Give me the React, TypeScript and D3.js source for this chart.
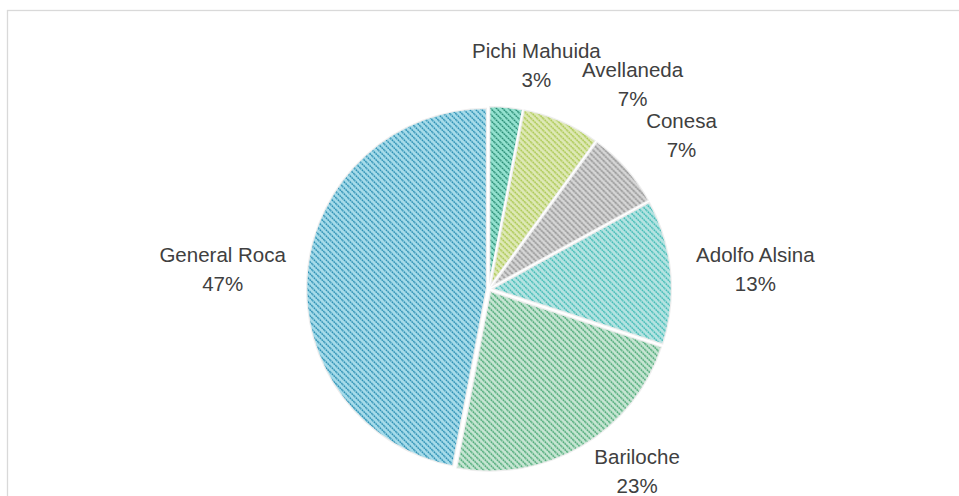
import React, { useEffect, useRef } from "react";
import * as d3 from "d3";

// Chart data (percent shares)
const categories = ["Pichi Mahuida", "Avellaneda", "Conesa", "Adolfo Alsina", "Bariloche", "General Roca"];
const values = [3, 7, 7, 13, 23, 47];
const labels = ["3%", "7%", "7%", "13%", "23%", "47%"];

// Hatch colours: background and stripe per slice
const bgColors = ["#9ff3df", "#effac4", "#e6e6e6", "#c2f4f2", "#d4f6e2", "#b2ecfb"];
const stripeColors = ["#1c8a6f", "#abd03f", "#858585", "#36c4be", "#3aab6d", "#1f8fba"];

// small nudges so labels sit where Excel put them (avoids overlaps)
const labelNudge: [number, number][] = [
  [22, 8],
  [42, 9],
  [12, 0],
  [3, 2],
  [22, -20],
  [1, 2],
];

const W = 959;
const H = 496;

const App: React.FC = () => {
  const svgRef = useRef<SVGSVGElement>(null);

  useEffect(() => {
    const svg = d3.select(svgRef.current);
    svg.selectAll("*").remove();

    const cx = 489;
    const cy = 289;
    const radius = 181;

    // chart border
    svg
      .append("rect")
      .attr("x", 7.5)
      .attr("y", 10.5)
      .attr("width", W + 20)
      .attr("height", H + 20)
      .attr("fill", "#fff")
      .attr("stroke", "#d9d9d9")
      .attr("stroke-width", 1.3);

    const defs = svg.append("defs");
    categories.forEach((_, i) => {
      const p = defs
        .append("pattern")
        .attr("id", `hatch${i}`)
        .attr("patternUnits", "userSpaceOnUse")
        .attr("width", 6)
        .attr("height", 6);
      p.append("rect").attr("width", 6).attr("height", 6).attr("fill", bgColors[i]);
      p.append("path")
        .attr("d", "M-1,-1 L7,7 M-4,2 L2,8 M2,-4 L8,2")
        .attr("stroke", stripeColors[i])
        .attr("stroke-width", 1.3)
        .attr("stroke-dasharray", "1.8 0.7");
    });

    // subtle rim shading
    const rg = defs
      .append("radialGradient")
      .attr("id", "rim")
      .attr("gradientUnits", "userSpaceOnUse")
      .attr("cx", cx)
      .attr("cy", cy)
      .attr("r", radius);
    rg.append("stop").attr("offset", "0.92").attr("stop-color", "#000").attr("stop-opacity", 0);
    rg.append("stop").attr("offset", "1").attr("stop-color", "#000").attr("stop-opacity", 0.07);

    const pie = d3
      .pie<number>()
      .sort(null)
      .value((d) => d);
    const arcs = pie(values);
    const arc = d3.arc<d3.PieArcDatum<number>>().innerRadius(0).outerRadius(radius);

    const explode = 2;
    const g = svg.append("g").attr("transform", `translate(${cx},${cy})`);

    const slices = g
      .selectAll("g.slice")
      .data(arcs)
      .enter()
      .append("g")
      .attr("class", "slice")
      .attr("transform", (d) => {
        const a = (d.startAngle + d.endAngle) / 2;
        return `translate(${explode * Math.sin(a)},${-explode * Math.cos(a)})`;
      });

    slices
      .append("path")
      .attr("d", arc)
      .attr("fill", (_, i) => `url(#hatch${i})`)
      .attr("stroke", "#fff")
      .attr("stroke-width", 2.5);

    slices
      .append("path")
      .attr("d", arc)
      .attr("fill", "url(#rim)")
      .attr("stroke", "none");

    // labels: outside end, anchored on mid angle
    const labelR = radius + 24;
    const lineGap = 29;
    const lg = svg
      .append("g")
      .attr("font-family", "'Liberation Sans', Arial, sans-serif")
      .attr("font-size", 20.5)
      .attr("fill", "#404040")
      .attr("text-anchor", "middle");

    arcs.forEach((d, i) => {
      const a = (d.startAngle + d.endAngle) / 2;
      const t = lg.append("text");
      t.append("tspan").attr("x", 0).attr("y", 0).text(categories[i]);
      t.append("tspan").attr("x", 0).attr("y", lineGap).text(labels[i]);
      const bb = (t.node() as SVGTextElement).getBBox();
      const w = bb.width;
      const h = 58;
      const ax = cx + labelR * Math.sin(a);
      const ay = cy - labelR * Math.cos(a);
      const bx = ax + (w / 2) * Math.sin(a) + labelNudge[i][0];
      const by = ay - (h / 2) * Math.cos(a) + labelNudge[i][1];
      t.selectAll("tspan").attr("x", bx);
      t.select("tspan:nth-child(1)").attr("y", by - 6.5);
      t.select("tspan:nth-child(2)").attr("y", by - 6.5 + lineGap);
    });
  }, []);

  return (
    <svg
      ref={svgRef}
      width={W}
      height={H}
      style={{ position: "absolute", left: 0, top: 0, display: "block" }}
    ></svg>
  );
};

export default App;
